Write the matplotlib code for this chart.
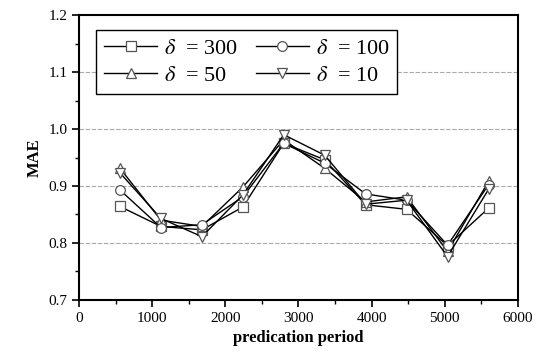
import matplotlib.pyplot as plt
from matplotlib.ticker import MultipleLocator

plt.rcParams['font.family'] = 'Liberation Serif'
plt.rcParams['mathtext.fontset'] = 'stix'

# date
perioada = [560, 1120, 1680, 2240, 2800, 3360, 3920, 4480, 5040, 5600]
mae_300 = [0.864, 0.829, 0.823, 0.863, 0.975, 0.946, 0.867, 0.859, 0.795, 0.861]
mae_100 = [0.893, 0.827, 0.832, 0.881, 0.975, 0.940, 0.886, 0.875, 0.796, 0.902]
mae_50 = [0.931, 0.840, 0.829, 0.898, 0.981, 0.931, 0.872, 0.881, 0.785, 0.908]
mae_10 = [0.923, 0.843, 0.811, 0.884, 0.990, 0.954, 0.868, 0.875, 0.776, 0.894]

# ordinea pentru legenda pe 2 coloane (se umple pe coloane)
serii = [(mae_300, 's', r'$\delta$  = 300'),
         (mae_50, '^', r'$\delta$  = 50'),
         (mae_100, 'o', r'$\delta$  = 100'),
         (mae_10, 'v', r'$\delta$  = 10')]

fig = plt.figure(figsize=(5.45, 3.6), dpi=100)
ax = fig.add_axes([0.145, 0.167, 0.805, 0.791])

for y, m, eticheta in serii:
    ax.plot(perioada, y, color='black', lw=1.0, marker=m, markersize=7,
            markerfacecolor='white', markeredgecolor='#555555', markeredgewidth=0.9,
            label=eticheta)

ax.set_xlim(0, 6000)
ax.set_ylim(0.7, 1.2)
ax.xaxis.set_major_locator(MultipleLocator(1000))
ax.xaxis.set_minor_locator(MultipleLocator(500))
ax.yaxis.set_major_locator(MultipleLocator(0.1))
ax.yaxis.set_minor_locator(MultipleLocator(0.05))
ax.tick_params(which='major', length=5, width=1.2, labelsize=11, color='black')
ax.tick_params(which='minor', length=3, width=1.0)

for g in [0.8, 0.9, 1.0, 1.1]:
    ax.axhline(g, color='#aaaaaa', lw=0.8, ls=(0, (4, 1.5)), zorder=0)

for s in ax.spines.values():
    s.set_linewidth(1.5)

ax.set_xlabel('predication period', fontsize=12, fontweight='bold')
ax.set_ylabel('MAE', fontsize=12, fontweight='bold')

leg = ax.legend(ncol=2, loc='upper left', bbox_to_anchor=(0.039, 0.947), fontsize=16,
                fancybox=False, edgecolor='black', framealpha=1, handlelength=2.4,
                handletextpad=0.3, columnspacing=0.8, borderpad=0.35, labelspacing=0.3,
                borderaxespad=0)
leg.get_frame().set_linewidth(1.0)

fig.savefig('out.png', dpi=100)
